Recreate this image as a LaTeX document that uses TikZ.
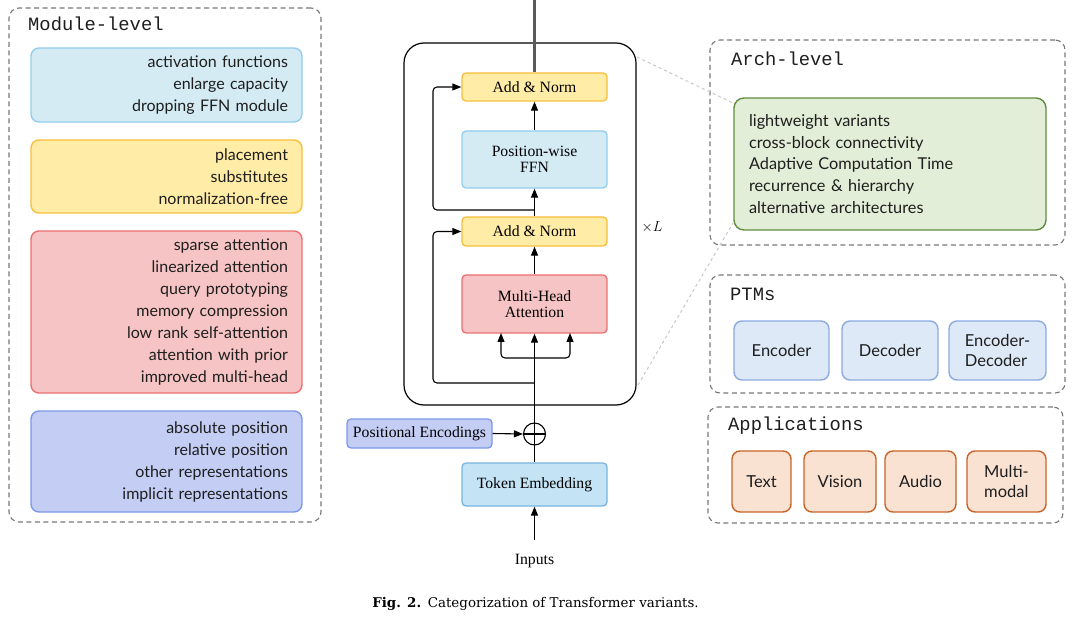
\documentclass[tikz,border=0pt]{standalone}
\usepackage{fontspec}
\setmainfont{Liberation Serif}
\newfontfamily\gothic{Lato}
\newfontfamily\monof{Liberation Mono}
\newfontfamily\capfont{DejaVu Serif}
\usetikzlibrary{arrows.meta}
\definecolor{cyanF}{RGB}{212,235,244}
\definecolor{cyanD}{RGB}{146,205,238}
\definecolor{yelF}{RGB}{255,236,166}
\definecolor{yelD}{RGB}{248,190,60}
\definecolor{redF}{RGB}{246,196,196}
\definecolor{redD}{RGB}{236,112,112}
\definecolor{vioF}{RGB}{196,206,245}
\definecolor{vioD}{RGB}{125,152,230}
\definecolor{tokF}{RGB}{196,228,246}
\definecolor{tokD}{RGB}{120,180,225}
\definecolor{greF}{RGB}{226,238,216}
\definecolor{greD}{RGB}{96,140,64}
\definecolor{ptmF}{RGB}{221,233,246}
\definecolor{ptmD}{RGB}{140,170,225}
\definecolor{appF}{RGB}{250,226,210}
\definecolor{appD}{RGB}{200,100,40}
\definecolor{panelG}{RGB}{120,120,120}
\definecolor{linkG}{RGB}{200,200,200}
\definecolor{topG}{RGB}{90,90,90}
\definecolor{txt}{RGB}{30,30,30}
\begin{document}
\begin{tikzpicture}[x=1pt,y=-1pt,
  panel/.style={draw=panelG, dash pattern=on 5pt off 3.5pt, line width=1.1pt, rounded corners=10pt, inner sep=0pt},
  ptitle/.style={anchor=base west, font=\monof\fontsize{18.8}{20}\selectfont, text=txt, inner sep=0pt},
  modbox/.style={rounded corners=8pt, line width=1.4pt, inner xsep=14pt, inner ysep=0pt, align=right, text width=243pt, minimum width=271pt, text=txt, font=\gothic\fontsize{16}{22}\selectfont},
  cbox/.style={rounded corners=4pt, line width=1.3pt, minimum width=145pt, inner sep=0pt, align=center, font=\fontsize{15.7}{16}\selectfont},
  sbox/.style={rounded corners=8pt, line width=1.4pt, inner sep=0pt, minimum height=59pt, align=left, text=txt, font=\gothic\fontsize{16.5}{20}\selectfont},
  arr/.style={-{Triangle[length=9pt,width=7pt]}, line width=1.1pt},
  link/.style={draw=linkG, dashed, line width=1pt}]
\useasboundingbox (0,0) rectangle (1073,617);

% ---------------- Module-level ----------------
\node[panel, minimum width=312pt, minimum height=514pt] (modp) at (165,265) {};
\node[ptitle] (modt) at (28,30.5) {Module-level};
\node[modbox, fill=cyanF, draw=cyanD, minimum height=74pt] (m1) at (166.5,85)
  {activation functions\\enlarge capacity\\dropping FFN module};
\node[modbox, fill=yelF, draw=yelD, minimum height=73pt] (m2) at (166.5,176.5)
  {placement\\substitutes\\normalization-free};
\node[modbox, fill=redF, draw=redD, minimum height=162pt] (m3) at (166.5,312)
  {sparse attention\\linearized attention\\query prototyping\\memory compression\\low rank self-attention\\attention with prior\\improved multi-head};
\node[modbox, fill=vioF, draw=vioD, minimum height=101pt] (m4) at (166.5,461.5)
  {absolute position\\relative position\\other representations\\implicit representations};

% ---------------- Transformer block ----------------
\node[draw, line width=1.2pt, rounded corners=20pt, minimum width=232pt, minimum height=362pt, inner sep=0pt] (big) at (520,224) {};
\node[cbox, fill=yelF, draw=yelD, minimum height=28pt] (an1) at (534.5,87) {Add \& Norm};
\node[cbox, fill=cyanF, draw=cyanD, minimum height=57pt] (ffn) at (534.5,159.5) {Position-wise\\FFN};
\node[cbox, fill=yelF, draw=yelD, minimum height=29pt] (an2) at (534.5,231.5) {Add \& Norm};
\node[cbox, fill=redF, draw=redD, minimum height=58pt] (mha) at (534.5,304) {Multi-Head\\Attention};
\node[draw, circle, line width=1.1pt, minimum size=22pt, inner sep=0pt] (plus) at (534.5,434) {};
\draw[line width=1.1pt] (plus.north) -- (plus.south) (plus.west) -- (plus.east);
\node[cbox, fill=vioF, draw=vioD, minimum height=29pt] (pe) at (419.5,433.5) {Positional Encodings};
\node[cbox, fill=tokF, draw=tokD, minimum height=43pt] (tok) at (534.5,484.5) {Token Embedding};
\node[font=\fontsize{15.7}{16}\selectfont, inner sep=0pt] (inp) at (534.5,561) {Inputs};
\node[font=\fontsize{15.7}{16}\selectfont, inner sep=0pt] (xl) at (652,227) {$\times L$};

\coordinate (top) at (534.5,0);
\coordinate (r1) at (534.5,210);
\coordinate (r2) at (534.5,383);
\coordinate (br) at (534.5,358);
\coordinate (q1) at (501,333);
\coordinate (q3) at (570,333);
\coordinate (inb) at (534.5,540);

\draw[draw=topG, line width=3pt] (an1.north) -- (top);
\draw[arr] (ffn.north) -- (an1.south);
\draw[arr] (an2.north) -- (ffn.south);
\draw[arr] (mha.north) -- (an2.south);
\draw[arr, rounded corners=4pt] (r1) -- (433,210) -- (433,87) -- (an1.west);
\draw[arr, rounded corners=4pt] (r2) -- (433,383) -- (433,231.5) -- (an2.west);
\draw[arr] (plus.north) -- (mha.south);
\draw[arr, rounded corners=4pt] (br) -- (501,358) -- (q1);
\draw[arr, rounded corners=4pt] (br) -- (570,358) -- (q3);
\draw[arr] (pe.east) -- (plus.west);
\draw[line width=1.1pt] (tok.north) -- (plus.south);
\draw[arr] (inb) -- (tok.south);

% ---------------- Arch-level ----------------
\node[panel, minimum width=355pt, minimum height=205pt] (archp) at (887.5,142.5) {};
\node[ptitle] (archt) at (731,65.5) {Arch-level};
\node[rounded corners=10pt, line width=1.4pt, fill=greF, draw=greD, minimum width=312pt, minimum height=132pt, inner xsep=15pt, inner ysep=0pt, text width=282pt, align=left, text=txt, font=\gothic\fontsize{16.3}{21.75}\selectfont] (arch) at (890,164)
  {lightweight variants\\cross-block connectivity\\Adaptive Computation Time\\recurrence \& hierarchy\\alternative architectures};

\coordinate (l1a) at (637,57);
\coordinate (l1b) at (733,103);
\coordinate (l2a) at (638,385);
\coordinate (l2b) at (733,223);
\draw[link] (l1a) -- (l1b);
\draw[link] (l2a) -- (l2b);

% ---------------- PTMs ----------------
\node[panel, minimum width=355pt, minimum height=118pt] (ptmp) at (887.5,334) {};
\node[ptitle] (ptmt) at (730,300.5) {PTMs};
\node[sbox, fill=ptmF, draw=ptmD, minimum width=95pt] (enc) at (781.5,350.5) {Encoder};
\node[sbox, fill=ptmF, draw=ptmD, minimum width=96pt] (dec) at (890,350.5) {Decoder};
\node[sbox, fill=ptmF, draw=ptmD, minimum width=97pt] (ed) at (997.5,350.5) {Encoder-\\Decoder};

% ---------------- Applications ----------------
\node[panel, minimum width=355pt, minimum height=116pt] (appp) at (885.5,465) {};
\node[ptitle] (appt) at (728,430.5) {Applications};
\node[sbox, fill=appF, draw=appD, minimum width=59pt, minimum height=61pt] (a1) at (761.5,481.5) {Text};
\node[sbox, fill=appF, draw=appD, minimum width=72pt, minimum height=61pt] (a2) at (840,481.5) {Vision};
\node[sbox, fill=appF, draw=appD, minimum width=71pt, minimum height=61pt] (a3) at (920.5,481.5) {Audio};
\node[sbox, fill=appF, draw=appD, minimum width=79pt, minimum height=61pt] (a4) at (1006.5,481.5) {Multi-\\modal};

% ---------------- Caption ----------------
\node[font=\capfont\fontsize{13.4}{15}\selectfont, inner sep=0pt] (cap) at (535.5,604) {\textbf{Fig. 2.}\enspace Categorization of Transformer variants.};
\end{tikzpicture}
\end{document}
